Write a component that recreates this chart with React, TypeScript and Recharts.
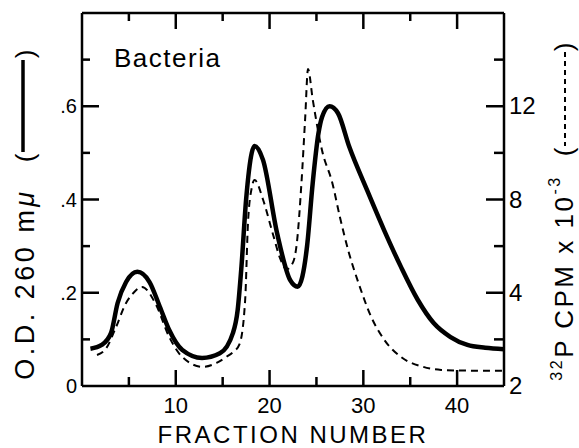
import React from "react";
import { LineChart, Line, XAxis, YAxis } from "recharts";

// O.D. 260 mµ (solid line)
const odFraction = [0.9, 2.1, 3.1, 3.8, 4.7, 5.9, 7.2, 8.3, 9.3, 10.7, 12.8, 14.7, 16.1, 16.6, 17.0, 17.5, 18.1, 18.4, 19.3, 20.8, 22.2, 23.0, 23.5, 24.0, 24.6, 25.2, 25.6, 26.4, 27.3, 28.5, 30.4, 32.2, 34.0, 35.8, 37.5, 39.3, 41.1, 43.0, 45.0];
const odValues = [0.08, 0.088, 0.114, 0.178, 0.223, 0.245, 0.223, 0.17, 0.12, 0.077, 0.06, 0.07, 0.114, 0.163, 0.255, 0.4, 0.5, 0.515, 0.485, 0.328, 0.227, 0.213, 0.235, 0.3, 0.435, 0.54, 0.577, 0.6, 0.585, 0.513, 0.42, 0.335, 0.256, 0.185, 0.135, 0.105, 0.088, 0.082, 0.079];

// 32P CPM x 10^-3 (dashed line)
const cpmFraction = [1.6, 2.6, 3.6, 4.7, 5.5, 6.4, 7.9, 9.3, 10.7, 12.9, 14.4, 15.4, 16.1, 16.8, 17.4, 17.7, 18.1, 18.4, 19.3, 20.3, 21.2, 21.8, 22.5, 22.9, 23.4, 23.8, 24.1, 24.6, 25.6, 26.7, 27.5, 28.4, 29.5, 30.8, 32.2, 34.0, 36.4, 38.3, 41.0, 45.0];
const cpmValues = [1.33, 1.63, 2.5, 3.56, 4.0, 4.25, 3.48, 2.1, 1.24, 0.82, 1.0, 1.25, 1.45, 1.8, 3.7, 7.0, 8.5, 8.84, 8.0, 6.6, 5.4, 5.0, 5.3, 6.1, 8.7, 11.5, 13.6, 12.3, 10.1, 8.7, 7.25, 5.8, 4.4, 3.0, 2.0, 1.25, 0.82, 0.69, 0.66, 0.65];

const xTicks = [5, 10, 15, 20, 25, 30, 35, 40];
const xLabeled = [10, 20, 30, 40];
const leftTicks = [0, 0.1, 0.2, 0.3, 0.4, 0.5, 0.6, 0.7];
const leftLabeled = [0, 0.2, 0.4, 0.6];
const rightTicks = [0, 2, 4, 6, 8, 10, 12, 14];
const rightLabels: Record<number, string> = { 0: "2", 4: "4", 8: "8", 12: "12" };

const odData = odFraction.map((f, i) => ({ fraction: f, od: odValues[i] }));
const cpmData = cpmFraction.map((f, i) => ({ fraction: f, cpm: cpmValues[i] }));

const FONT = "'Liberation Sans', Arial, sans-serif";
const tickStyle = { stroke: "#000", strokeWidth: 2.5, fill: "none" };
const frame = { stroke: "#000", strokeWidth: 2.5 };

const BottomTick = (props: any) => {
  const x = Number(props.x);
  const y = Number(props.y);
  const major = xLabeled.includes(props.payload.value);
  return (
    <g>
      <path d={`M${x},${y}V${y - (major ? 16 : 9)}`} style={tickStyle} />
      {major && (
        <text x={x} y={y + 27} textAnchor="middle" fontSize={22} fontFamily={FONT} fill="#000">
          {props.payload.value}
        </text>
      )}
    </g>
  );
};

const TopTick = (props: any) => {
  const x = Number(props.x);
  const y = Number(props.y);
  const major = xLabeled.includes(props.payload.value);
  return (
    <g>
      <path d={`M${x},${y}V${y + (major ? 16 : 8)}`} style={tickStyle} />
    </g>
  );
};

const LeftTick = (props: any) => {
  const x = Number(props.x);
  const y = Number(props.y);
  const v = Math.round(props.payload.value * 10) / 10;
  const major = leftLabeled.includes(v);
  const label = v === 0 ? "0" : v.toFixed(1).replace(/^0/, "");
  return (
    <g>
      {v !== 0 && <path d={`M${x},${y}H${x + (major ? 17 : 8)}`} style={tickStyle} />}
      {major && (
        <text x={x - 5} y={y + 7} textAnchor="end" fontSize={20} fontFamily={FONT} fill="#000">
          {label}
        </text>
      )}
    </g>
  );
};

const RightTick = (props: any) => {
  const x = Number(props.x);
  const y = Number(props.y);
  const label = rightLabels[props.payload.value];
  return (
    <g>
      {props.payload.value !== 0 && <path d={`M${x},${y}H${x - (label ? 18 : 10)}`} style={tickStyle} />}
      {label && (
        <text x={x + 5} y={y + 8} textAnchor="start" fontSize={24} fontFamily={FONT} fill="#000">
          {label}
        </text>
      )}
    </g>
  );
};

const LeftTitle = () => (
  <g fontFamily={FONT} fill="#000">
    <text x={34} y={284} transform="rotate(-90 34 284)" textAnchor="middle" fontSize={27} letterSpacing={3.5}>
      O.D. 260 m<tspan fontStyle="italic">μ</tspan>
    </text>
    <text x={34} y={158} transform="rotate(-90 34 158)" textAnchor="middle" fontSize={26}>(</text>
    <line x1={23} x2={23} y1={60} y2={152} stroke="#000" strokeWidth={3.5} />
    <text x={34} y={54} transform="rotate(-90 34 54)" textAnchor="middle" fontSize={26}>)</text>
  </g>
);

const RightTitle = () => (
  <g fontFamily={FONT} fill="#000">
    <text x={573} y={278} transform="rotate(-90 573 278)" textAnchor="middle" fontSize={26} letterSpacing={2.5}>
      <tspan fontSize={16} dy={-11}>32</tspan>
      <tspan dy={11}>P CPM x 10</tspan>
      <tspan fontSize={16} dy={-13}>-3</tspan>
    </text>
    <text x={573} y={152} transform="rotate(-90 573 152)" textAnchor="middle" fontSize={26}>(</text>
    <line x1={565} x2={565} y1={52} y2={146} stroke="#000" strokeWidth={2} strokeDasharray="5 4" />
    <text x={573} y={47} transform="rotate(-90 573 47)" textAnchor="middle" fontSize={26}>)</text>
  </g>
);

export default function App() {
  return (
    <div style={{ position: "absolute", left: 0, top: 0, width: 579, height: 448, background: "#fff" }}>
      <LineChart width={579} height={448} margin={{ top: 0, right: 0, bottom: 0, left: 0 }}>
        <XAxis
          xAxisId="bottom"
          dataKey="fraction"
          type="number"
          domain={[0, 45]}
          allowDataOverflow
          ticks={xTicks}
          interval={0}
          height={62}
          tickSize={0}
          tickMargin={0}
          axisLine={frame}
          tickLine={false}
          tick={BottomTick}
          label={{
            content: (p: any) => (
              <text
                x={p.viewBox.x + p.viewBox.width / 2}
                y={p.viewBox.y + 57}
                textAnchor="middle"
                fontSize={24}
                letterSpacing={2.5}
                fontFamily={FONT}
                fill="#000"
              >
                FRACTION NUMBER
              </text>
            ),
          }}
        />
        <XAxis
          xAxisId="top"
          orientation="top"
          dataKey="fraction"
          type="number"
          domain={[0, 45]}
          allowDataOverflow
          ticks={xTicks}
          interval={0}
          height={13}
          tickSize={0}
          tickMargin={0}
          axisLine={frame}
          tickLine={false}
          tick={TopTick}
        />
        <YAxis
          yAxisId="left"
          type="number"
          domain={[0, 0.8]}
          allowDataOverflow
          ticks={leftTicks}
          interval={0}
          width={82}
          tickSize={0}
          tickMargin={0}
          axisLine={frame}
          tickLine={false}
          tick={LeftTick}
          label={{ content: () => <LeftTitle /> }}
        />
        <YAxis
          yAxisId="right"
          orientation="right"
          type="number"
          domain={[0, 16]}
          allowDataOverflow
          ticks={rightTicks}
          interval={0}
          width={75}
          tickSize={0}
          tickMargin={0}
          axisLine={frame}
          tickLine={false}
          tick={RightTick}
          label={{ content: () => <RightTitle /> }}
        />
        <Line
          xAxisId="top"
          yAxisId="left"
          data={odData}
          dataKey="od"
          type="monotone"
          stroke="#000"
          strokeWidth={4.5}
          dot={false}
          isAnimationActive={false}
        />
        <Line
          xAxisId="bottom"
          yAxisId="right"
          data={cpmData}
          dataKey="cpm"
          type="monotone"
          stroke="#000"
          strokeWidth={2}
          strokeDasharray="7 5"
          dot={false}
          isAnimationActive={false}
        />
      </LineChart>
      <div
        style={{
          position: "absolute",
          left: 114,
          top: 45,
          fontFamily: FONT,
          fontSize: 26,
          letterSpacing: 1.5,
          color: "#000",
          lineHeight: 1,
        }}
      >
        Bacteria
      </div>
    </div>
  );
}
